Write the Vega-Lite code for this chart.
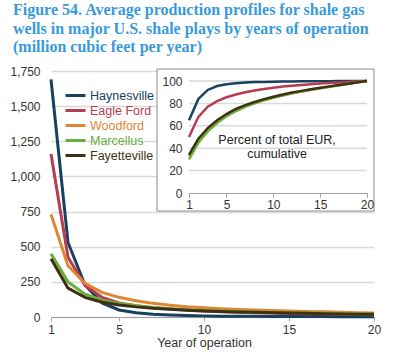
{
  "$schema": "https://vega.github.io/schema/vega-lite/v6.json",
  "width": 323,
  "height": 246,
  "autosize": "none",
  "padding": {"left": 51, "top": 71, "right": 26, "bottom": 35},
  "background": "white",
  "config": {
    "font": "Liberation Sans",
    "view": {"stroke": null},
    "axis": {"labelColor": "#333333", "labelFontSize": 12, "labelOverlap": false, "labelFlush": false}
  },
  "title": {
    "text": ["Figure 54. Average production profiles for shale gas", "wells in major U.S. shale plays by years of operation", "(million cubic feet per year)"],
    "anchor": "start",
    "frame": "group",
    "dx": -38,
    "font": "Liberation Serif",
    "fontSize": 16,
    "fontWeight": "bold",
    "color": "#3A9AD9",
    "lineHeight": 18.5,
    "offset": 10
  },
  "datasets": {
    "wells": [
      {"play":"Haynesville","year":1,"prod":1690,"cum":65},{"play":"Haynesville","year":2,"prod":530,"cum":84},{"play":"Haynesville","year":3,"prod":228,"cum":92},{"play":"Haynesville","year":4,"prod":100,"cum":95.5},{"play":"Haynesville","year":5,"prod":50,"cum":97},{"play":"Haynesville","year":6,"prod":30,"cum":98},{"play":"Haynesville","year":7,"prod":20,"cum":98.6},{"play":"Haynesville","year":8,"prod":14,"cum":99},{"play":"Haynesville","year":9,"prod":10,"cum":99.2},{"play":"Haynesville","year":10,"prod":8,"cum":99.4},{"play":"Haynesville","year":11,"prod":6,"cum":99.5},{"play":"Haynesville","year":12,"prod":5,"cum":99.6},{"play":"Haynesville","year":13,"prod":4.5,"cum":99.7},{"play":"Haynesville","year":14,"prod":4,"cum":99.75},{"play":"Haynesville","year":15,"prod":3.5,"cum":99.8},{"play":"Haynesville","year":16,"prod":3,"cum":99.85},{"play":"Haynesville","year":17,"prod":3,"cum":99.9},{"play":"Haynesville","year":18,"prod":2.5,"cum":99.93},{"play":"Haynesville","year":19,"prod":2.5,"cum":99.97},{"play":"Haynesville","year":20,"prod":2,"cum":100},
      {"play":"Eagle Ford","year":1,"prod":1160,"cum":50},{"play":"Eagle Ford","year":2,"prod":425,"cum":68},{"play":"Eagle Ford","year":3,"prod":225,"cum":77},{"play":"Eagle Ford","year":4,"prod":140,"cum":82},{"play":"Eagle Ford","year":5,"prod":100,"cum":85.5},{"play":"Eagle Ford","year":6,"prod":80,"cum":88},{"play":"Eagle Ford","year":7,"prod":66,"cum":90},{"play":"Eagle Ford","year":8,"prod":56,"cum":91.6},{"play":"Eagle Ford","year":9,"prod":49,"cum":92.9},{"play":"Eagle Ford","year":10,"prod":43,"cum":94},{"play":"Eagle Ford","year":11,"prod":38,"cum":95},{"play":"Eagle Ford","year":12,"prod":34,"cum":95.8},{"play":"Eagle Ford","year":13,"prod":31,"cum":96.5},{"play":"Eagle Ford","year":14,"prod":28,"cum":97.1},{"play":"Eagle Ford","year":15,"prod":25,"cum":97.7},{"play":"Eagle Ford","year":16,"prod":23,"cum":98.2},{"play":"Eagle Ford","year":17,"prod":21,"cum":98.7},{"play":"Eagle Ford","year":18,"prod":19,"cum":99.2},{"play":"Eagle Ford","year":19,"prod":17,"cum":99.6},{"play":"Eagle Ford","year":20,"prod":16,"cum":100},
      {"play":"Woodford","year":1,"prod":730,"cum":33},{"play":"Woodford","year":2,"prod":365,"cum":47},{"play":"Woodford","year":3,"prod":240,"cum":57},{"play":"Woodford","year":4,"prod":175,"cum":64},{"play":"Woodford","year":5,"prod":140,"cum":69.5},{"play":"Woodford","year":6,"prod":115,"cum":74},{"play":"Woodford","year":7,"prod":97,"cum":77.5},{"play":"Woodford","year":8,"prod":84,"cum":80.5},{"play":"Woodford","year":9,"prod":73,"cum":83},{"play":"Woodford","year":10,"prod":65,"cum":85.3},{"play":"Woodford","year":11,"prod":59,"cum":87.3},{"play":"Woodford","year":12,"prod":54,"cum":89.1},{"play":"Woodford","year":13,"prod":50,"cum":90.7},{"play":"Woodford","year":14,"prod":46,"cum":92.2},{"play":"Woodford","year":15,"prod":43,"cum":93.6},{"play":"Woodford","year":16,"prod":40,"cum":94.9},{"play":"Woodford","year":17,"prod":37,"cum":96.2},{"play":"Woodford","year":18,"prod":34,"cum":97.5},{"play":"Woodford","year":19,"prod":31,"cum":98.8},{"play":"Woodford","year":20,"prod":28,"cum":100},
      {"play":"Marcellus","year":1,"prod":450,"cum":30},{"play":"Marcellus","year":2,"prod":250,"cum":45},{"play":"Marcellus","year":3,"prod":162,"cum":55},{"play":"Marcellus","year":4,"prod":120,"cum":62.5},{"play":"Marcellus","year":5,"prod":96,"cum":68.5},{"play":"Marcellus","year":6,"prod":80,"cum":73},{"play":"Marcellus","year":7,"prod":68,"cum":77},{"play":"Marcellus","year":8,"prod":59,"cum":80},{"play":"Marcellus","year":9,"prod":52,"cum":82.7},{"play":"Marcellus","year":10,"prod":46,"cum":85},{"play":"Marcellus","year":11,"prod":42,"cum":87.1},{"play":"Marcellus","year":12,"prod":38,"cum":89},{"play":"Marcellus","year":13,"prod":35,"cum":90.6},{"play":"Marcellus","year":14,"prod":32,"cum":92.1},{"play":"Marcellus","year":15,"prod":30,"cum":93.5},{"play":"Marcellus","year":16,"prod":28,"cum":94.9},{"play":"Marcellus","year":17,"prod":26,"cum":96.2},{"play":"Marcellus","year":18,"prod":24,"cum":97.5},{"play":"Marcellus","year":19,"prod":22,"cum":98.8},{"play":"Marcellus","year":20,"prod":21,"cum":100},
      {"play":"Fayetteville","year":1,"prod":415,"cum":34},{"play":"Fayetteville","year":2,"prod":205,"cum":48.5},{"play":"Fayetteville","year":3,"prod":140,"cum":58},{"play":"Fayetteville","year":4,"prod":105,"cum":65},{"play":"Fayetteville","year":5,"prod":85,"cum":70.5},{"play":"Fayetteville","year":6,"prod":72,"cum":75},{"play":"Fayetteville","year":7,"prod":62,"cum":78.5},{"play":"Fayetteville","year":8,"prod":55,"cum":81.3},{"play":"Fayetteville","year":9,"prod":48,"cum":83.8},{"play":"Fayetteville","year":10,"prod":43,"cum":86},{"play":"Fayetteville","year":11,"prod":39,"cum":88},{"play":"Fayetteville","year":12,"prod":36,"cum":89.7},{"play":"Fayetteville","year":13,"prod":33,"cum":91.2},{"play":"Fayetteville","year":14,"prod":30,"cum":92.6},{"play":"Fayetteville","year":15,"prod":28,"cum":94},{"play":"Fayetteville","year":16,"prod":26,"cum":95.2},{"play":"Fayetteville","year":17,"prod":24,"cum":96.4},{"play":"Fayetteville","year":18,"prod":22,"cum":97.6},{"play":"Fayetteville","year":19,"prod":20,"cum":98.8},{"play":"Fayetteville","year":20,"prod":19,"cum":100}
    ],
    "insetgrid": [{"g":20},{"g":40},{"g":60},{"g":80},{"g":100}],
    "insetlabel": [{"label":"Percent of total EUR, cumulative"}]
  },
  "layer": [
    {
      "data": {"name": "wells"},
      "mark": {"type": "line", "strokeWidth": 3},
      "encoding": {
        "x": {"field": "year", "type": "quantitative",
          "scale": {"domain": [1, 20], "nice": false, "zero": false},
          "axis": {"values": [1, 5, 10, 15, 20], "grid": false, "domainColor": "#A0A0A0", "tickColor": "#A0A0A0", "tickSize": 4, "labelPadding": 3, "title": "Year of operation", "titleFontSize": 12.5, "titleFontWeight": "normal", "titleColor": "#333333", "titlePadding": 1, "titleX": 153}},
        "y": {"field": "prod", "type": "quantitative",
          "scale": {"domain": [0, 1750], "nice": false},
          "axis": {"values": [0, 250, 500, 750, 1000, 1250, 1500, 1750], "format": ",.0f", "domain": false, "ticks": false, "grid": true, "gridColor": "#D9D9D9", "gridWidth": 1.5, "labelPadding": 11, "title": null}},
        "color": {"field": "play", "type": "nominal",
          "scale": {"domain": ["Haynesville", "Eagle Ford", "Woodford", "Marcellus", "Fayetteville"], "range": ["#17415F", "#B83B50", "#DE8631", "#6AAE3C", "#3E3113"]},
          "legend": {"orient": "none", "legendX": 18, "legendY": 18, "title": null, "symbolType": "M-2,0H2", "symbolSize": 100, "symbolStrokeWidth": 3, "labelFontSize": 12.5, "labelOffset": 8, "rowPadding": 2, "padding": 0, "labelLimit": 200,
            "encode": {"labels": {"update": {"fill": {"scale": "color", "field": "value"}}}}}}
      }
    },
    {
      "layer": [
        {
          "data": {"values": [{}]},
          "mark": {"type": "rect", "fill": "white", "stroke": "#8C8C8C", "strokeWidth": 1},
          "encoding": {
            "x": {"datum": -2.42, "type": "quantitative", "scale": {"domain": [1, 20], "range": [138, 316], "nice": false, "zero": false},
              "axis": {"orient": "bottom", "offset": -124, "values": [1, 5, 10, 15, 20], "grid": false, "domainColor": "#A0A0A0", "tickColor": "#A0A0A0", "tickSize": 4, "labelPadding": 2, "title": null, "zindex": 1}},
            "x2": {"datum": 20.75},
            "y": {"datum": -16.1, "type": "quantitative", "scale": {"domain": [0, 100], "range": [122, 10], "nice": false, "zero": false},
              "axis": {"orient": "left", "offset": -138, "values": [0, 20, 40, 60, 80, 100], "grid": false, "domain": false, "ticks": false, "labelPadding": 7, "title": null, "zindex": 1}},
            "y2": {"datum": 110.7}
          }
        },
        {
          "data": {"name": "insetgrid"},
          "mark": {"type": "rule", "color": "#D9D9D9", "strokeWidth": 1.5},
          "encoding": {
            "x": {"datum": 1, "type": "quantitative", "scale": {"domain": [1, 20], "range": [138, 316], "nice": false, "zero": false},
              "axis": {"orient": "bottom", "offset": -124, "values": [1, 5, 10, 15, 20], "grid": false, "domainColor": "#A0A0A0", "tickColor": "#A0A0A0", "tickSize": 4, "labelPadding": 2, "title": null, "zindex": 1}},
            "x2": {"datum": 20},
            "y": {"field": "g", "type": "quantitative", "scale": {"domain": [0, 100], "range": [122, 10], "nice": false, "zero": false},
              "axis": {"orient": "left", "offset": -138, "values": [0, 20, 40, 60, 80, 100], "grid": false, "domain": false, "ticks": false, "labelPadding": 7, "title": null, "zindex": 1}}
          }
        },
        {
          "data": {"name": "wells"},
          "mark": {"type": "line", "strokeWidth": 2.5},
          "encoding": {
            "x": {"field": "year", "type": "quantitative",
              "scale": {"domain": [1, 20], "range": [138, 316], "nice": false, "zero": false},
              "axis": {"orient": "bottom", "offset": -124, "values": [1, 5, 10, 15, 20], "grid": false, "domainColor": "#A0A0A0", "tickColor": "#A0A0A0", "tickSize": 4, "labelPadding": 2, "title": null, "zindex": 1}},
            "y": {"field": "cum", "type": "quantitative",
              "scale": {"domain": [0, 100], "range": [122, 10], "nice": false, "zero": false},
              "axis": {"orient": "left", "offset": -138, "values": [0, 20, 40, 60, 80, 100], "grid": false, "domain": false, "ticks": false, "labelPadding": 7, "title": null, "zindex": 1}},
            "color": {"field": "play", "type": "nominal", "legend": null}
          }
        },
        {
          "data": {"name": "insetlabel"},
          "mark": {"type": "text", "fontSize": 12.5, "color": "#222222", "align": "center", "baseline": "middle", "lineHeight": 14, "text": ["Percent of total EUR,", "cumulative"]},
          "encoding": {
            "x": {"datum": 10.4, "type": "quantitative", "scale": {"domain": [1, 20], "range": [138, 316], "nice": false, "zero": false},
              "axis": {"orient": "bottom", "offset": -124, "values": [1, 5, 10, 15, 20], "grid": false, "domainColor": "#A0A0A0", "tickColor": "#A0A0A0", "tickSize": 4, "labelPadding": 2, "title": null, "zindex": 1}},
            "y": {"datum": 47.3, "type": "quantitative", "scale": {"domain": [0, 100], "range": [122, 10], "nice": false, "zero": false},
              "axis": {"orient": "left", "offset": -138, "values": [0, 20, 40, 60, 80, 100], "grid": false, "domain": false, "ticks": false, "labelPadding": 7, "title": null, "zindex": 1}}
          }
        }
      ]
    }
  ],
  "resolve": {"scale": {"x": "independent", "y": "independent"}, "axis": {"x": "independent", "y": "independent"}}
}
